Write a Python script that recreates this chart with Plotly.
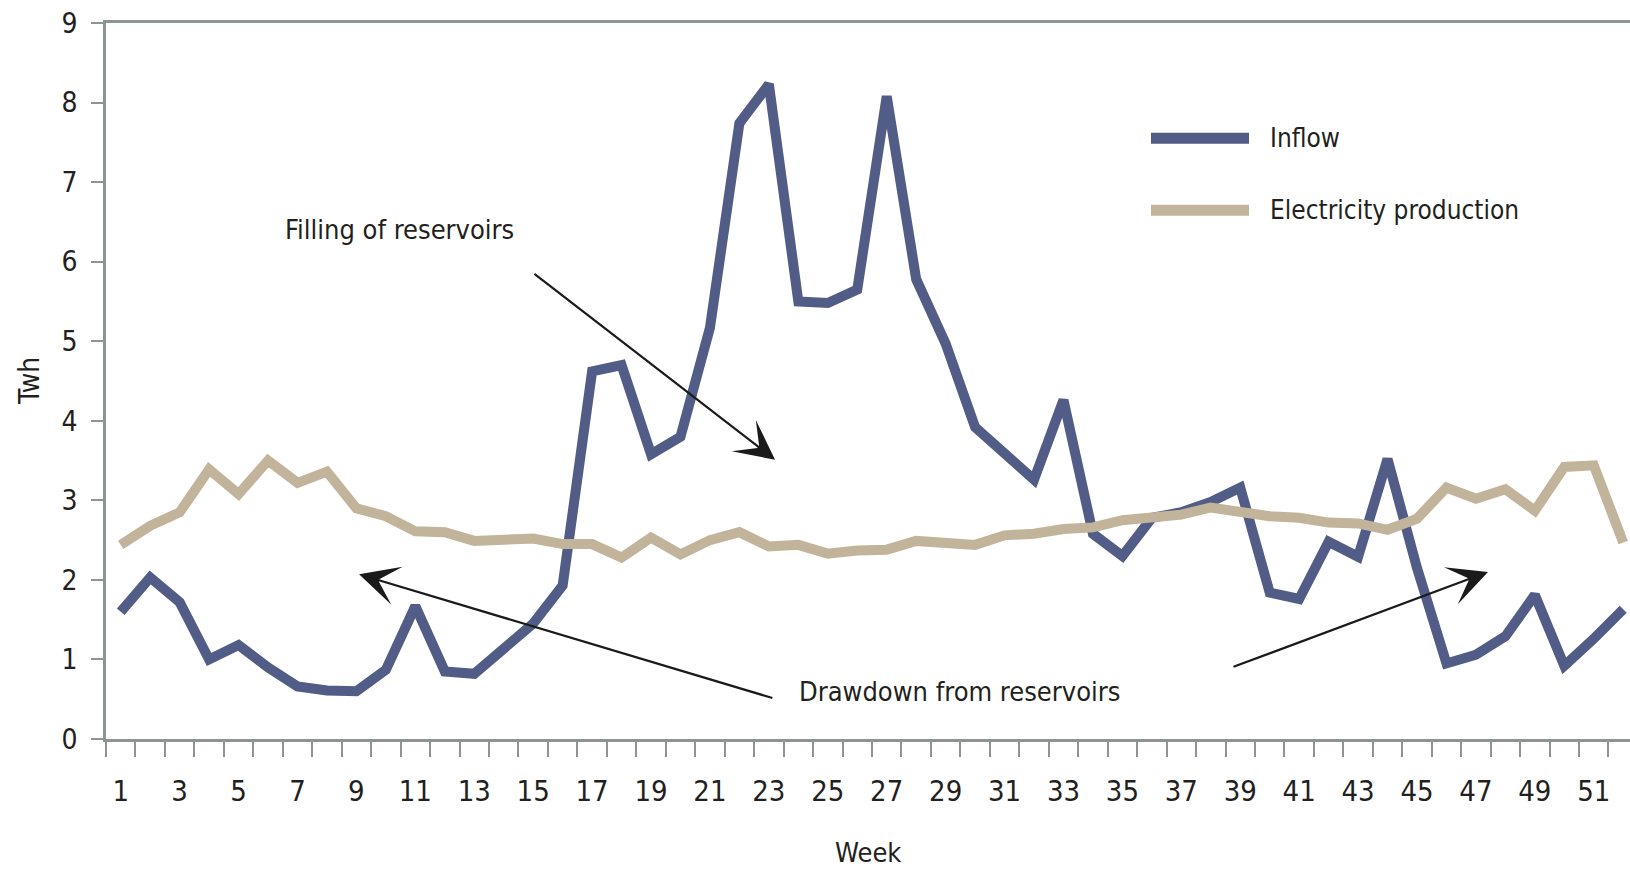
import plotly.graph_objects as go

# Weekly hydro balance (TWh)
weeks = list(range(1, 53))
inflow = [
    1.60, 2.03, 1.72, 1.00, 1.18, 0.90, 0.66, 0.61, 0.60, 0.87,
    1.67, 0.85, 0.82, 1.12, 1.45, 1.93, 4.62, 4.70, 3.58, 3.80,
    5.17, 7.74, 8.23, 5.50, 5.48, 5.65, 8.08, 5.78, 4.97, 3.92,
    3.58, 3.26, 4.26, 2.58, 2.30, 2.78, 2.85, 2.98, 3.16, 1.84,
    1.76, 2.48, 2.29, 3.52, 2.15, 0.95, 1.06, 1.29, 1.81, 0.92,
    1.26, 1.63,
]
production = [
    2.44, 2.68, 2.85, 3.39, 3.08, 3.50, 3.22, 3.36, 2.90, 2.80,
    2.61, 2.60, 2.49, 2.50, 2.52, 2.45, 2.45, 2.28, 2.53, 2.32,
    2.50, 2.60, 2.42, 2.44, 2.33, 2.37, 2.38, 2.49, 2.45, 2.44,
    2.56, 2.58, 2.64, 2.66, 2.75, 2.77, 2.82, 2.91, 2.85, 2.80,
    2.78, 2.72, 2.71, 2.63, 2.77, 3.16, 3.02, 3.14, 2.87, 3.42,
    3.44, 2.47,
]
y_ticks = list(range(0, 10))
x_labels = weeks[::2]

BLUE = "#515c87"
TAN = "#c2b49a"
AXIS = "#8c9494"
INK = "#231f20"
FONT = "DejaVu Sans Condensed, Liberation Sans Narrow, sans-serif"

fig = go.Figure()
fig.add_trace(go.Scatter(x=weeks, y=inflow, mode="lines", name="Inflow",
                         line=dict(color=BLUE, width=10), showlegend=False))
fig.add_trace(go.Scatter(x=weeks, y=production, mode="lines", name="Electricity production",
                         line=dict(color=TAN, width=10), showlegend=False))

# legend drawn by hand so the swatches can be long bars
legend_items = [("Inflow", BLUE, 0.8391), ("Electricity production", TAN, 0.7385)]
for label, color, yp in legend_items:
    fig.add_shape(type="line", xref="paper", yref="paper",
                  x0=0.6857, x1=0.75, y0=yp, y1=yp,
                  line=dict(color=color, width=11))
    fig.add_annotation(text=label, xref="paper", yref="paper", x=0.7625, y=yp,
                       xanchor="left", yanchor="middle", showarrow=False,
                       font=dict(family=FONT, size=26, color=INK))

# annotation texts
fig.add_annotation(text="Filling of reservoirs", x=6.51, y=6.41, xanchor="left",
                   yanchor="middle", showarrow=False,
                   font=dict(family=FONT, size=27, color=INK))
fig.add_annotation(text="Drawdown from reservoirs", x=23.94, y=0.60, xanchor="left",
                   yanchor="middle", showarrow=False,
                   font=dict(family=FONT, size=27, color=INK))

# arrows (tail -> head)
arrows = [
    ((14.99, 5.86), (23.21, 3.51)),
    ((23.17, 0.51), (9.09, 2.07)),
    ((38.72, 0.90), (47.41, 2.10)),
]
for (tx, ty), (hx, hy) in arrows:
    fig.add_annotation(x=hx, y=hy, ax=tx, ay=ty, xref="x", yref="y",
                       axref="x", ayref="y", text="", showarrow=True,
                       arrowhead=3, arrowsize=3.0, arrowwidth=2.2,
                       arrowcolor="#1a1a1a")

# axis titles
fig.add_annotation(text="Twh", xref="paper", yref="paper", x=-0.0505, y=0.5,
                   xanchor="center", yanchor="middle",
                   textangle=-90, showarrow=False,
                   font=dict(family=FONT, size=28, color=INK))
fig.add_annotation(text="Week", xref="paper", yref="paper", x=0.5, y=-0.158,
                   xanchor="center", yanchor="middle",
                   showarrow=False, font=dict(family=FONT, size=27, color=INK))

fig.update_xaxes(
    range=[0.5, 52.23],
    tickmode="array", tickvals=x_labels, ticktext=[str(w) for w in x_labels],
    ticks="outside", ticklen=15, tickcolor="rgba(0,0,0,0)",
    ticklabelstandoff=9,
    minor=dict(tickmode="array", tickvals=[w - 0.5 for w in weeks] + [52.5],
               ticks="outside", ticklen=15, tickwidth=2, tickcolor=AXIS),
    showline=True, linecolor=AXIS, linewidth=2.5, mirror=True,
    showgrid=False, zeroline=False,
    tickfont=dict(family=FONT, size=29, color=INK),
)
fig.update_yaxes(
    range=[0, 9],
    tickmode="array", tickvals=y_ticks,
    ticks="outside", ticklen=12, tickwidth=2, tickcolor=AXIS,
    ticklabelstandoff=8,
    showline=True, linecolor=AXIS, linewidth=2.5,
    showgrid=False, zeroline=False,
    tickfont=dict(family=FONT, size=28, color=INK),
)

fig.update_layout(
    width=1630, height=875,
    margin=dict(l=106, r=0, t=23, b=136),
    paper_bgcolor="white", plot_bgcolor="white",
    font=dict(family=FONT, color=INK),
)

fig.write_html("out.html")
